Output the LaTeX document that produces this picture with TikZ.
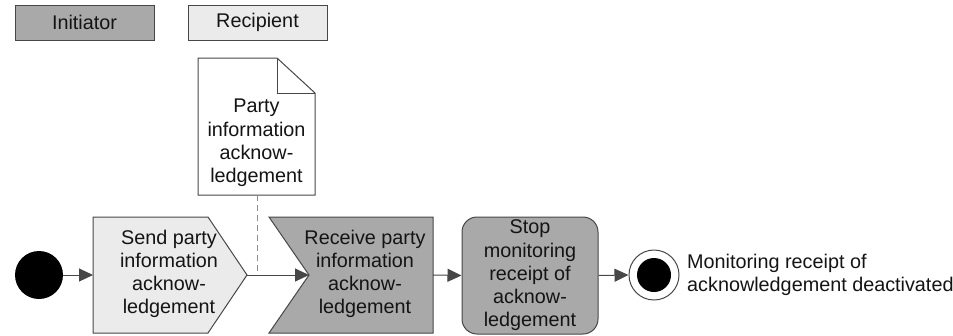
\documentclass[tikz,border=0pt]{standalone}
\usepackage{fontspec}
\setmainfont{Liberation Sans}
\usetikzlibrary{arrows.meta}
\definecolor{darkfill}{HTML}{A9A9A9}
\definecolor{lightfill}{HTML}{EBEBEB}
\definecolor{edge}{HTML}{474747}
\definecolor{ink}{HTML}{141414}
\definecolor{dashgray}{HTML}{8C8C8C}
\begin{document}
\begin{tikzpicture}[x=1pt,y=-1pt,
  shapeline/.style={draw=edge, line width=1pt, line join=miter},
  txt/.style={font=\fontsize{19.8}{23.2}\selectfont, text=ink, align=center, inner sep=0pt},
  legendbox/.style={txt, draw=edge, line width=1pt, minimum width=139pt, minimum height=35pt},
  flow/.style={draw=edge, line width=1pt, -{Triangle[length=14pt,width=13pt]}},
  ]
\useasboundingbox (0,0) rectangle (953,335);

% legend
\node[legendbox, fill=darkfill] (initiator) at (84.5,22.5) {Initiator};
\node[legendbox, fill=lightfill] (recipient) at (257.5,22.5) {Recipient};

% initial state
\node[circle, fill=black, minimum size=48pt, inner sep=0pt] (start) at (39,275) {};

% send action (light, pointing right)
\draw[shapeline, fill=lightfill] (93,217) -- (208,217) -- (247,275) -- (208,333) -- (93,333) -- cycle;
\coordinate (send-in) at (93,275);
\coordinate (send-out) at (247,275);
\node[txt] (send) at (169,274) {Send party\\information\\acknow-\\ledgement};

% receive action (dark, notched on the left)
\draw[shapeline, fill=darkfill] (269,217) -- (433,217) -- (433,333) -- (269,333) -- (309,275) -- cycle;
\coordinate (recv-in) at (309,275);
\coordinate (recv-out) at (433,275);
\node[txt] (receive) at (365,274) {Receive party\\information\\acknow-\\ledgement};

% document object
\draw[shapeline, fill=white] (198,58) -- (277,58) -- (315,93) -- (315,195) -- (198,195) -- cycle;
\draw[shapeline] (277,58) -- (277,93) -- (315,93);
\coordinate (doc-foot) at (257,195);
\node[txt] (doc) at (256.5,143) {Party\\information\\acknow-\\ledgement};
\coordinate (doc-join) at (257,275);

% stop action
\node[txt, draw=edge, line width=1pt, fill=darkfill, rounded corners=15pt,
      minimum width=136pt, minimum height=117pt] (stop) at (530,275.5)
      {Stop\\monitoring\\receipt of\\acknow-\\ledgement};

% final state
\node[circle, draw=edge, line width=1pt, fill=white, minimum size=50pt, inner sep=0pt] (end) at (654,275) {};
\node[circle, fill=black, minimum size=34pt, inner sep=0pt] (endcore) at (end) {};
\node[txt, align=left, anchor=west] (endlabel) at (687,275)
      {Monitoring receipt of\\acknowledgement deactivated};

% connectors
\draw[flow] (start) -- (send-in);
\draw[flow] (send-out) -- (recv-in);
\draw[draw=dashgray, line width=1pt, dash pattern=on 6pt off 4pt] (doc-foot) -- (doc-join);
\draw[flow] (recv-out) -- (stop.west);
\draw[flow] (stop.east) -- (end.west);
\end{tikzpicture}
\end{document}
